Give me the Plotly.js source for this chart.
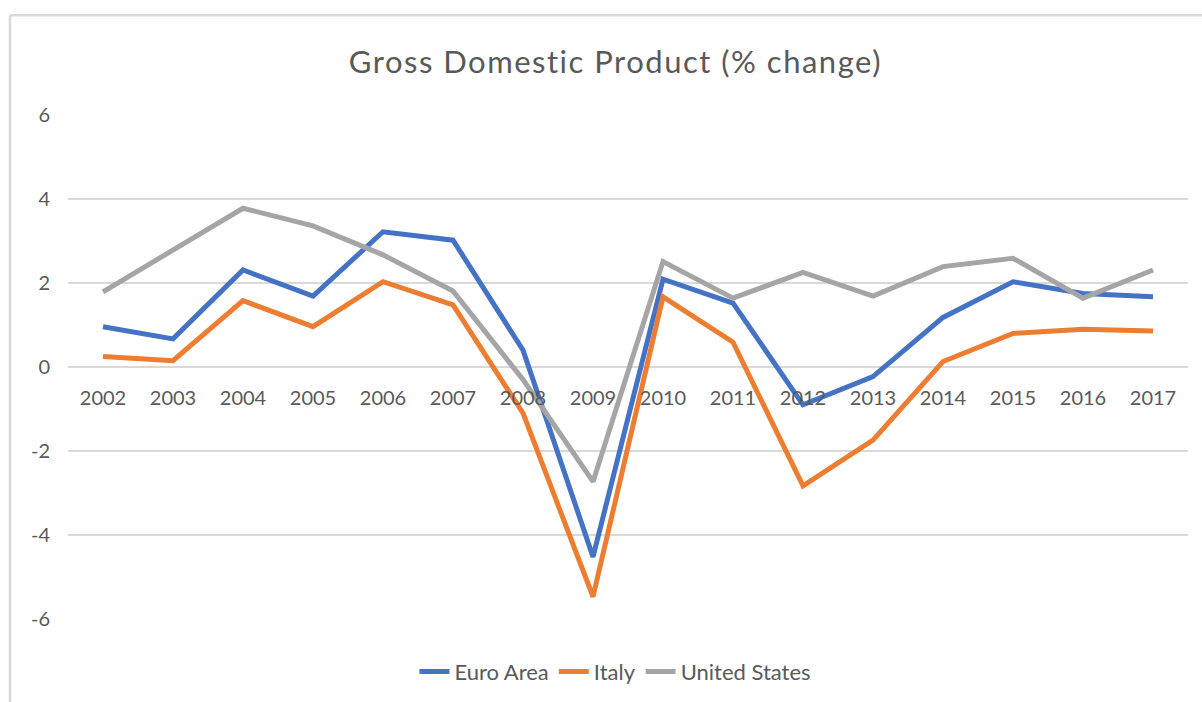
<!DOCTYPE html>
<html>
<head>
<meta charset="utf-8">
<script src="https://cdn.plot.ly/plotly-3.0.1.min.js"></script>
<style>
  html, body { margin: 0; padding: 0; background: #ffffff; }
  #chart { width: 1202px; height: 702px; }
  #chart .gtitle { letter-spacing: 1.5px; }
</style>
</head>
<body>
<div id="chart"></div>
<script>
const years = ["2002","2003","2004","2005","2006","2007","2008","2009","2010","2011","2012","2013","2014","2015","2016","2017"];
const euroArea = [0.96, 0.67, 2.31, 1.69, 3.22, 3.02, 0.40, -4.52, 2.09, 1.52, -0.90, -0.23, 1.18, 2.03, 1.75, 1.67];
const italy = [0.25, 0.15, 1.58, 0.96, 2.03, 1.48, -1.10, -5.47, 1.67, 0.59, -2.83, -1.74, 0.13, 0.80, 0.90, 0.86];
const unitedStates = [1.79, 2.80, 3.78, 3.36, 2.67, 1.81, -0.30, -2.73, 2.51, 1.64, 2.25, 1.69, 2.39, 2.59, 1.64, 2.31];
const yTicks = [-6, -4, -2, 0, 2, 4, 6];
const yTickLabels = ["-6", "-4", "-2", "0", "2", "4", "6"];

const fontFamily = "Lato, 'Open Sans', sans-serif";
const textColor = "#595959";
const gridColor = "#D9D9D9";

const traces = [
  {x: years, y: euroArea, name: "Euro Area", type: "scatter", mode: "lines",
   line: {color: "#4472C4", width: 5, shape: "linear"}},
  {x: years, y: italy, name: "Italy", type: "scatter", mode: "lines",
   line: {color: "#ED7D31", width: 5, shape: "linear"}},
  {x: years, y: unitedStates, name: "United States", type: "scatter", mode: "lines",
   line: {color: "#A5A5A5", width: 5, shape: "linear"}}
];

const layout = {
  width: 1202, height: 702,
  paper_bgcolor: "#ffffff", plot_bgcolor: "#ffffff",
  margin: {l: 68, r: 14, t: 115, b: 83},
  font: {family: fontFamily, color: textColor, size: 20},
  title: {text: "Gross Domestic Product (% change)", font: {family: fontFamily, size: 31, color: textColor},
          xref: "container", x: 0.512, xanchor: "center", yref: "container", y: 0.912, yanchor: "middle"},
  showlegend: true,
  legend: {orientation: "h", xref: "container", x: 0.512, xanchor: "center",
           yref: "container", y: 0.043, yanchor: "middle",
           font: {family: fontFamily, size: 22, color: textColor}, traceorder: "normal"},
  hovermode: false,
  xaxis: {type: "category", range: [-0.5, 15.5], anchor: "free", position: 0.5,
          showgrid: false, showline: false, zeroline: false, ticks: "", ticklabelstandoff: 17,
          tickfont: {family: fontFamily, size: 20, color: textColor}, fixedrange: true},
  yaxis: {range: [-6, 6], tickvals: yTicks, ticktext: yTickLabels, showgrid: true, gridcolor: gridColor, gridwidth: 1.5,
          zeroline: false, showline: false, ticks: "", ticklabelstandoff: 17,
          tickfont: {family: fontFamily, size: 20, color: textColor}, fixedrange: true},
  shapes: [
    {type: "line", xref: "paper", yref: "paper", x0: -0.0518, x1: -0.0518, y0: 1.198, y1: -0.3,
     line: {color: gridColor, width: 2.5}},
    {type: "line", xref: "paper", yref: "paper", x0: -0.0518, x1: 1.1, y0: 1.198, y1: 1.198,
     line: {color: gridColor, width: 2.5}}
  ]
};

Plotly.newPlot("chart", traces, layout, {displayModeBar: false, staticPlot: true});
</script>
</body>
</html>
